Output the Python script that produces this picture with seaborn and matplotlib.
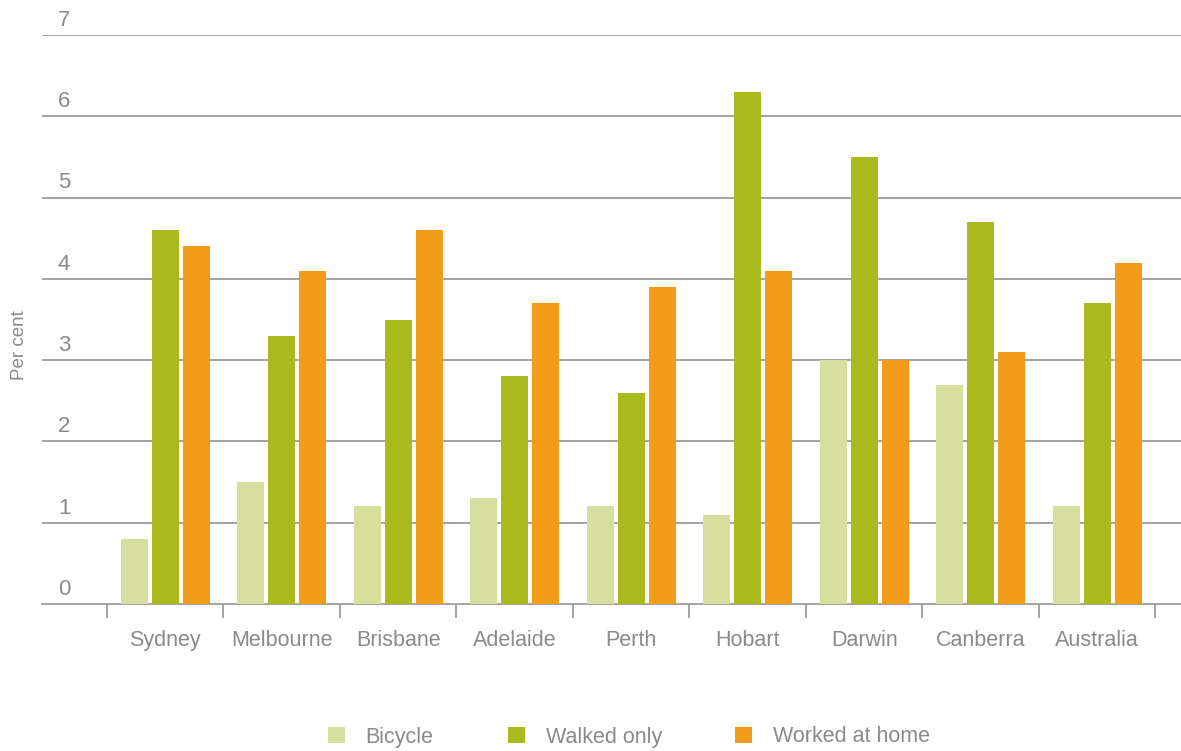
import matplotlib
matplotlib.use("Agg")
import matplotlib.pyplot as plt
from matplotlib.patches import Patch
import seaborn as sns
import pandas as pd

cities = ["Sydney", "Melbourne", "Brisbane", "Adelaide", "Perth",
          "Hobart", "Darwin", "Canberra", "Australia"]
bicycle = [0.8, 1.5, 1.2, 1.3, 1.2, 1.1, 3.0, 2.7, 1.2]
walked_only = [4.6, 3.3, 3.5, 2.8, 2.6, 6.3, 5.5, 4.7, 3.7]
worked_at_home = [4.4, 4.1, 4.6, 3.7, 3.9, 4.1, 3.0, 3.1, 4.2]
series_names = ["Bicycle", "Walked only", "Worked at home"]
y_ticks = [0, 1, 2, 3, 4, 5, 6, 7]
colors = ["#d7df9f", "#a9ba1c", "#f39c19"]

rows = []
for name, vals in zip(series_names, [bicycle, walked_only, worked_at_home]):
    for c, v in zip(cities, vals):
        rows.append({"City": c, "Mode": name, "Value": v})
df = pd.DataFrame(rows)

sns.set_theme(style="white")
plt.rcParams["font.family"] = ["Liberation Sans", "DejaVu Sans"]
txt_color = "#8a8a8a"
grid_color = "#9c9c9c"

fig = plt.figure(figsize=(11.81, 7.51), dpi=100)
ax = fig.add_axes([42 / 1181, 1 - 604 / 751, 1 - 42 / 1181, (604 - 35) / 751])

sns.barplot(data=df, x="City", y="Value", hue="Mode", order=cities,
            hue_order=series_names, palette=colors, width=0.8, gap=0.13,
            saturation=1, legend=False, ax=ax, zorder=3, linewidth=0)

ax.set_ylim(0, 7)
ax.set_xlim(-1.058, 8.72)
for s in ["top", "right", "left"]:
    ax.spines[s].set_visible(False)
ax.spines["bottom"].set_color(grid_color)
ax.spines["bottom"].set_linewidth(1.3)
ax.spines["bottom"].set_zorder(1)

for yv in y_ticks[1:]:
    ax.axhline(yv, color=grid_color, lw=1.3, zorder=1)

ax.set_yticks(y_ticks)
ax.set_yticklabels([])
ax.tick_params(axis="y", length=0)
for yv in y_ticks:
    ax.annotate(str(yv), xy=(16 / 1139, yv), xycoords=("axes fraction", "data"),
                xytext=(0, 3), textcoords="offset points", ha="left", va="bottom",
                fontsize=16, color=txt_color)

ax.set_xticks(range(len(cities)))
ax.set_xticklabels(cities, fontsize=15.5, color=txt_color)
ax.tick_params(axis="x", which="major", length=0, pad=19)
ax.set_xticks([i - 0.5 for i in range(len(cities) + 1)], minor=True)
ax.tick_params(axis="x", which="minor", bottom=True, length=10, width=1.3,
               color=grid_color, direction="out")
ax.set_xlabel("")
ax.set_ylabel("")

fig.text(20 / 1181, 1 - 345 / 751, "Per cent", rotation=90, ha="center", va="center",
         fontsize=13.5, color=txt_color)

handle_x = [328, 508, 735]
for name, col, hx in zip(series_names, colors, handle_x):
    fig.legend(handles=[Patch(facecolor=col, edgecolor="none")], labels=[name],
               loc="center left", bbox_to_anchor=(hx / 1181, 1 - 737 / 751),
               frameon=False, fontsize=15.5, handlelength=0.8, handleheight=0.8,
               handletextpad=0.95, borderpad=0, borderaxespad=0, labelcolor=txt_color)

fig.savefig("out.png", dpi=100)
